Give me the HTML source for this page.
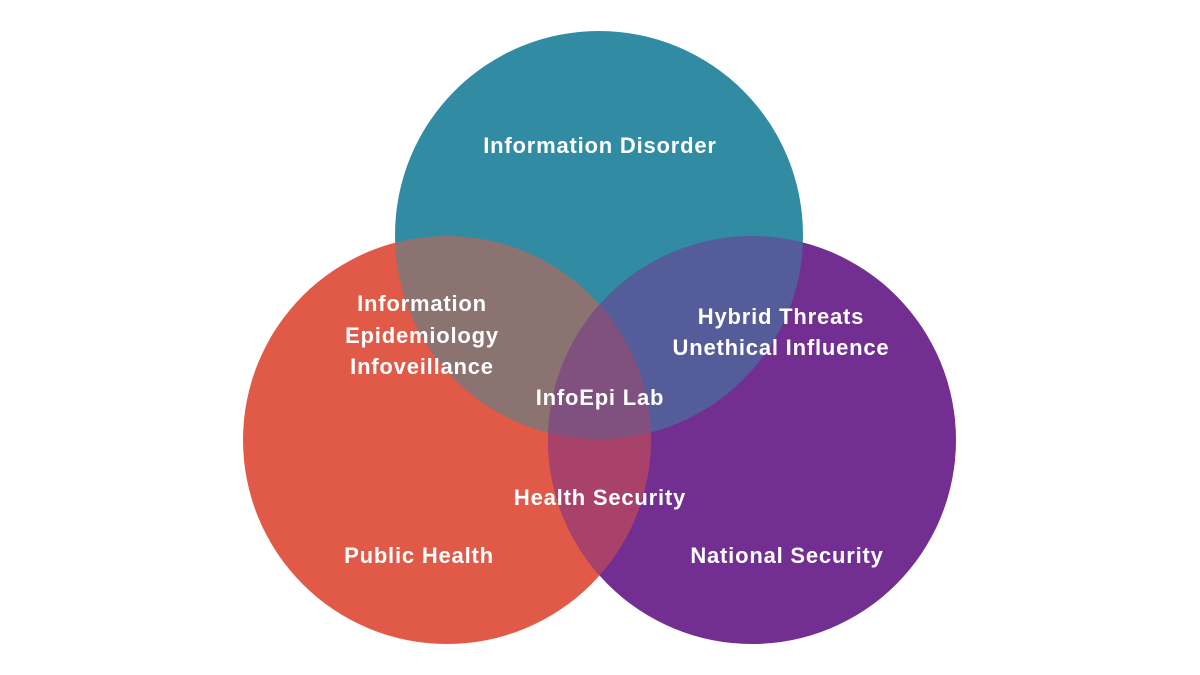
<!DOCTYPE html>
<html><head><meta charset="utf-8"><style>
html,body{margin:0;padding:0;background:#fff;}
svg{display:block}
text{font-family:"Liberation Sans",sans-serif;font-size:22px;font-weight:bold;fill:#fff;text-anchor:middle;letter-spacing:0.8px}
</style></head><body>
<svg width="1200" height="675" viewBox="0 0 1200 675">
<defs>
<clipPath id="cL"><circle cx="447" cy="440" r="204"/></clipPath>
<clipPath id="cR"><circle cx="752" cy="440" r="204"/></clipPath>
<clipPath id="cT"><circle cx="599" cy="235" r="204"/></clipPath>
</defs>
<rect width="1200" height="675" fill="#fff"/>
<circle cx="447" cy="440" r="204" fill="#E05A47"/>
<circle cx="752" cy="440" r="204" fill="#722F91"/>
<circle cx="599" cy="235" r="204" fill="#318BA2"/>
<circle cx="599" cy="235" r="204" fill="#8A7371" clip-path="url(#cL)"/>
<circle cx="599" cy="235" r="204" fill="#555C9A" clip-path="url(#cR)"/>
<circle cx="752" cy="440" r="204" fill="#A8426B" clip-path="url(#cL)"/>
<g clip-path="url(#cT)"><circle cx="752" cy="440" r="204" fill="#80507F" clip-path="url(#cL)"/></g>
<text x="600" y="153">Information Disorder</text>
<text x="422" y="311">Information</text>
<text x="422" y="343">Epidemiology</text>
<text x="422" y="374">Infoveillance</text>
<text x="781" y="324">Hybrid Threats</text>
<text x="781" y="355">Unethical Influence</text>
<text x="600" y="405">InfoEpi Lab</text>
<text x="600" y="505">Health Security</text>
<text x="419" y="563">Public Health</text>
<text x="787" y="563">National Security</text>
</svg>
</body></html>
